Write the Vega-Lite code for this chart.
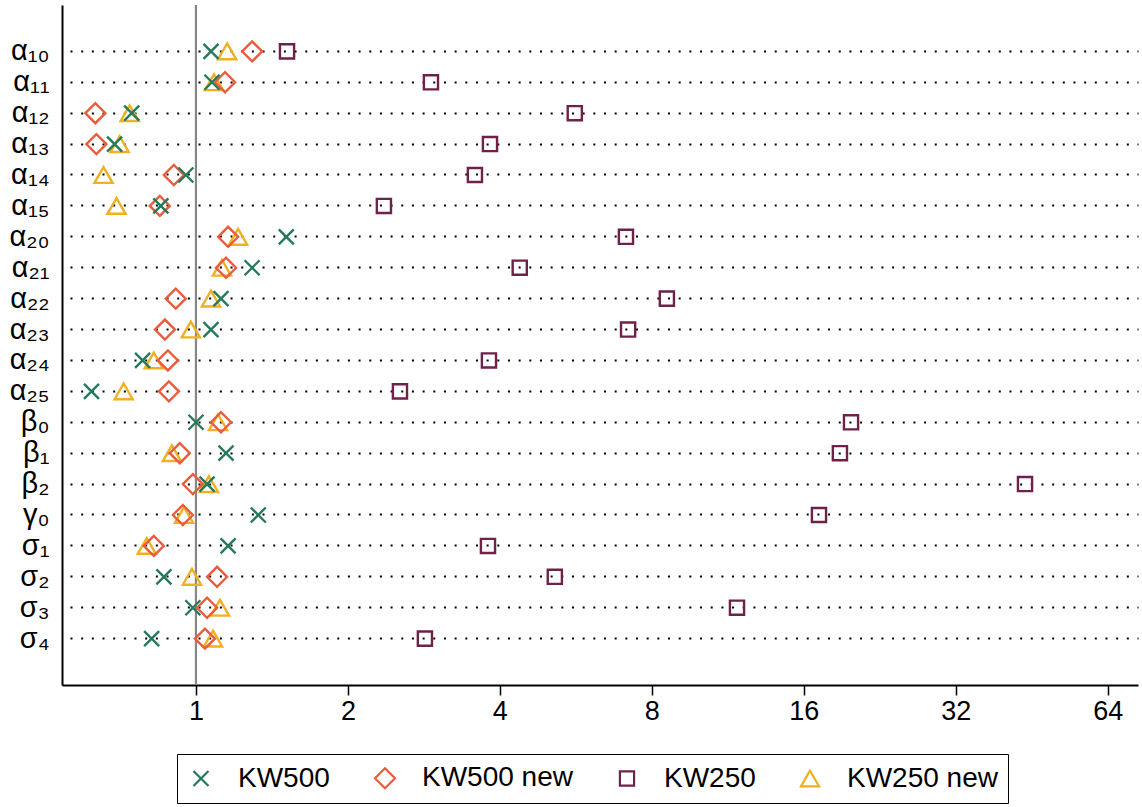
{
  "$schema": "https://vega.github.io/schema/vega-lite/v6.json",
  "autosize": {"type": "none"},
  "width": 1076,
  "height": 680,
  "padding": {"left": 62, "top": 5, "right": 4, "bottom": 122},
  "background": "white",
  "config": {
    "view": {"stroke": null},
    "font": "Liberation Sans"
  },
  "datasets": {
    "est": [
      {"p": "α₁₀", "s": "KW250 new", "v": 1.153},
      {"p": "α₁₁", "s": "KW250 new", "v": 1.086},
      {"p": "α₁₂", "s": "KW250 new", "v": 0.739},
      {"p": "α₁₃", "s": "KW250 new", "v": 0.706},
      {"p": "α₁₄", "s": "KW250 new", "v": 0.656},
      {"p": "α₁₅", "s": "KW250 new", "v": 0.696},
      {"p": "α₂₀", "s": "KW250 new", "v": 1.212},
      {"p": "α₂₁", "s": "KW250 new", "v": 1.126},
      {"p": "α₂₂", "s": "KW250 new", "v": 1.071},
      {"p": "α₂₃", "s": "KW250 new", "v": 0.977},
      {"p": "α₂₄", "s": "KW250 new", "v": 0.825},
      {"p": "α₂₅", "s": "KW250 new", "v": 0.719},
      {"p": "β₀", "s": "KW250 new", "v": 1.106},
      {"p": "β₁", "s": "KW250 new", "v": 0.896},
      {"p": "β₂", "s": "KW250 new", "v": 1.061},
      {"p": "γ₀", "s": "KW250 new", "v": 0.947},
      {"p": "σ₁", "s": "KW250 new", "v": 0.799},
      {"p": "σ₂", "s": "KW250 new", "v": 0.982},
      {"p": "σ₃", "s": "KW250 new", "v": 1.116},
      {"p": "σ₄", "s": "KW250 new", "v": 1.081},

      {"p": "α₁₀", "s": "KW250", "v": 1.515},
      {"p": "α₁₁", "s": "KW250", "v": 2.921},
      {"p": "α₁₂", "s": "KW250", "v": 5.63},
      {"p": "α₁₃", "s": "KW250", "v": 3.824},
      {"p": "α₁₄", "s": "KW250", "v": 3.57},
      {"p": "α₁₅", "s": "KW250", "v": 2.357},
      {"p": "α₂₀", "s": "KW250", "v": 7.11},
      {"p": "α₂₁", "s": "KW250", "v": 4.38},
      {"p": "α₂₂", "s": "KW250", "v": 8.57},
      {"p": "α₂₃", "s": "KW250", "v": 7.18},
      {"p": "α₂₄", "s": "KW250", "v": 3.806},
      {"p": "α₂₅", "s": "KW250", "v": 2.536},
      {"p": "β₀", "s": "KW250", "v": 19.85},
      {"p": "β₁", "s": "KW250", "v": 18.87},
      {"p": "β₂", "s": "KW250", "v": 43.9},
      {"p": "γ₀", "s": "KW250", "v": 17.15},
      {"p": "σ₁", "s": "KW250", "v": 3.789},
      {"p": "σ₂", "s": "KW250", "v": 5.14},
      {"p": "σ₃", "s": "KW250", "v": 11.8},
      {"p": "σ₄", "s": "KW250", "v": 2.842},

      {"p": "α₁₀", "s": "KW500 new", "v": 1.292},
      {"p": "α₁₁", "s": "KW500 new", "v": 1.142},
      {"p": "α₁₂", "s": "KW500 new", "v": 0.632},
      {"p": "α₁₃", "s": "KW500 new", "v": 0.635},
      {"p": "α₁₄", "s": "KW500 new", "v": 0.904},
      {"p": "α₁₅", "s": "KW500 new", "v": 0.848},
      {"p": "α₂₀", "s": "KW500 new", "v": 1.158},
      {"p": "α₂₁", "s": "KW500 new", "v": 1.147},
      {"p": "α₂₂", "s": "KW500 new", "v": 0.912},
      {"p": "α₂₃", "s": "KW500 new", "v": 0.868},
      {"p": "α₂₄", "s": "KW500 new", "v": 0.88},
      {"p": "α₂₅", "s": "KW500 new", "v": 0.884},
      {"p": "β₀", "s": "KW500 new", "v": 1.121},
      {"p": "β₁", "s": "KW500 new", "v": 0.929},
      {"p": "β₂", "s": "KW500 new", "v": 0.986},
      {"p": "γ₀", "s": "KW500 new", "v": 0.942},
      {"p": "σ₁", "s": "KW500 new", "v": 0.825},
      {"p": "σ₂", "s": "KW500 new", "v": 1.101},
      {"p": "σ₃", "s": "KW500 new", "v": 1.052},
      {"p": "σ₄", "s": "KW500 new", "v": 1.042},

      {"p": "α₁₀", "s": "KW500", "v": 1.071},
      {"p": "α₁₁", "s": "KW500", "v": 1.076},
      {"p": "α₁₂", "s": "KW500", "v": 0.746},
      {"p": "α₁₃", "s": "KW500", "v": 0.69},
      {"p": "α₁₄", "s": "KW500", "v": 0.955},
      {"p": "α₁₅", "s": "KW500", "v": 0.852},
      {"p": "α₂₀", "s": "KW500", "v": 1.51},
      {"p": "α₂₁", "s": "KW500", "v": 1.292},
      {"p": "α₂₂", "s": "KW500", "v": 1.121},
      {"p": "α₂₃", "s": "KW500", "v": 1.071},
      {"p": "α₂₄", "s": "KW500", "v": 0.784},
      {"p": "α₂₅", "s": "KW500", "v": 0.621},
      {"p": "β₀", "s": "KW500", "v": 1.0},
      {"p": "β₁", "s": "KW500", "v": 1.147},
      {"p": "β₂", "s": "KW500", "v": 1.052},
      {"p": "γ₀", "s": "KW500", "v": 1.329},
      {"p": "σ₁", "s": "KW500", "v": 1.158},
      {"p": "σ₂", "s": "KW500", "v": 0.864},
      {"p": "σ₃", "s": "KW500", "v": 0.986},
      {"p": "σ₄", "s": "KW500", "v": 0.817}
    ],
    "ref": [{"r": 1}]
  },
  "layer": [
    {
      "data": {"name": "ref"},
      "mark": {"type": "rule", "color": "#878787", "strokeWidth": 2.2},
      "encoding": {
        "x": {"field": "r", "type": "quantitative", "scale": {"type": "log", "base": 2, "domain": [0.5428, 73.5], "nice": false}}
      }
    },
    {
      "data": {"name": "est"},
      "mark": {"type": "point", "filled": false, "strokeWidth": 2.4, "opacity": 1},
      "encoding": {
        "x": {
          "field": "v", "type": "quantitative",
          "scale": {"type": "log", "base": 2, "domain": [0.5428, 73.5], "nice": false},
          "axis": {
            "title": null,
            "values": [1, 2, 4, 8, 16, 32, 64],
            "format": "d",
            "grid": false,
            "domainColor": "black",
            "domainWidth": 2,
            "tickColor": "black",
            "tickWidth": 1.5,
            "tickSize": 10,
            "labelFontSize": 27,
            "labelColor": "black",
            "labelPadding": 3,
            "labelFont": "Liberation Sans"
          }
        },
        "y": {
          "field": "p", "type": "nominal",
          "scale": {"type": "band", "paddingInner": 0, "paddingOuter": 1, "domain": ["α₁₀","α₁₁","α₁₂","α₁₃","α₁₄","α₁₅","α₂₀","α₂₁","α₂₂","α₂₃","α₂₄","α₂₅","β₀","β₁","β₂","γ₀","σ₁","σ₂","σ₃","σ₄"]},
          "axis": {
            "title": null,
            "ticks": false,
            "bandPosition": 0.5,
            "domainColor": "black",
            "domainWidth": 2,
            "labelFontSize": 29,
            "labelColor": "black",
            "labelPadding": 13,
            "labelFont": "Liberation Sans",
            "grid": true,
            "gridColor": "black",
            "gridWidth": 2,
            "gridDash": [2, 8.67],
            "gridDashOffset": 2.67
          }
        },
        "color": {
          "field": "s", "type": "nominal",
          "scale": {"domain": ["KW500", "KW500 new", "KW250", "KW250 new"], "range": ["#257a5a", "#e95c3e", "#6f214a", "#f0b021"]},
          "legend": {
            "title": null,
            "orient": "none",
            "legendX": 115,
            "legendY": 749,
            "direction": "horizontal",
            "strokeColor": "black",
            "padding": 10,
            "labelFontSize": 28,
            "labelFont": "Liberation Sans",
            "labelColor": "black",
            "labelOffset": 23,
            "columnPadding": 40,
            "symbolStrokeWidth": 2.2
          }
        },
        "shape": {
          "field": "s", "type": "nominal",
          "scale": {"domain": ["KW500", "KW500 new", "KW250", "KW250 new"], "range": ["M-1,-1L1,1M1,-1L-1,1", "diamond", "square", "triangle-up"]}
        },
        "size": {
          "field": "s", "type": "nominal",
          "scale": {"type": "ordinal", "domain": ["KW500", "KW500 new", "KW250", "KW250 new"], "range": [225, 400, 200, 330]}
        }
      }
    }
  ]
}
